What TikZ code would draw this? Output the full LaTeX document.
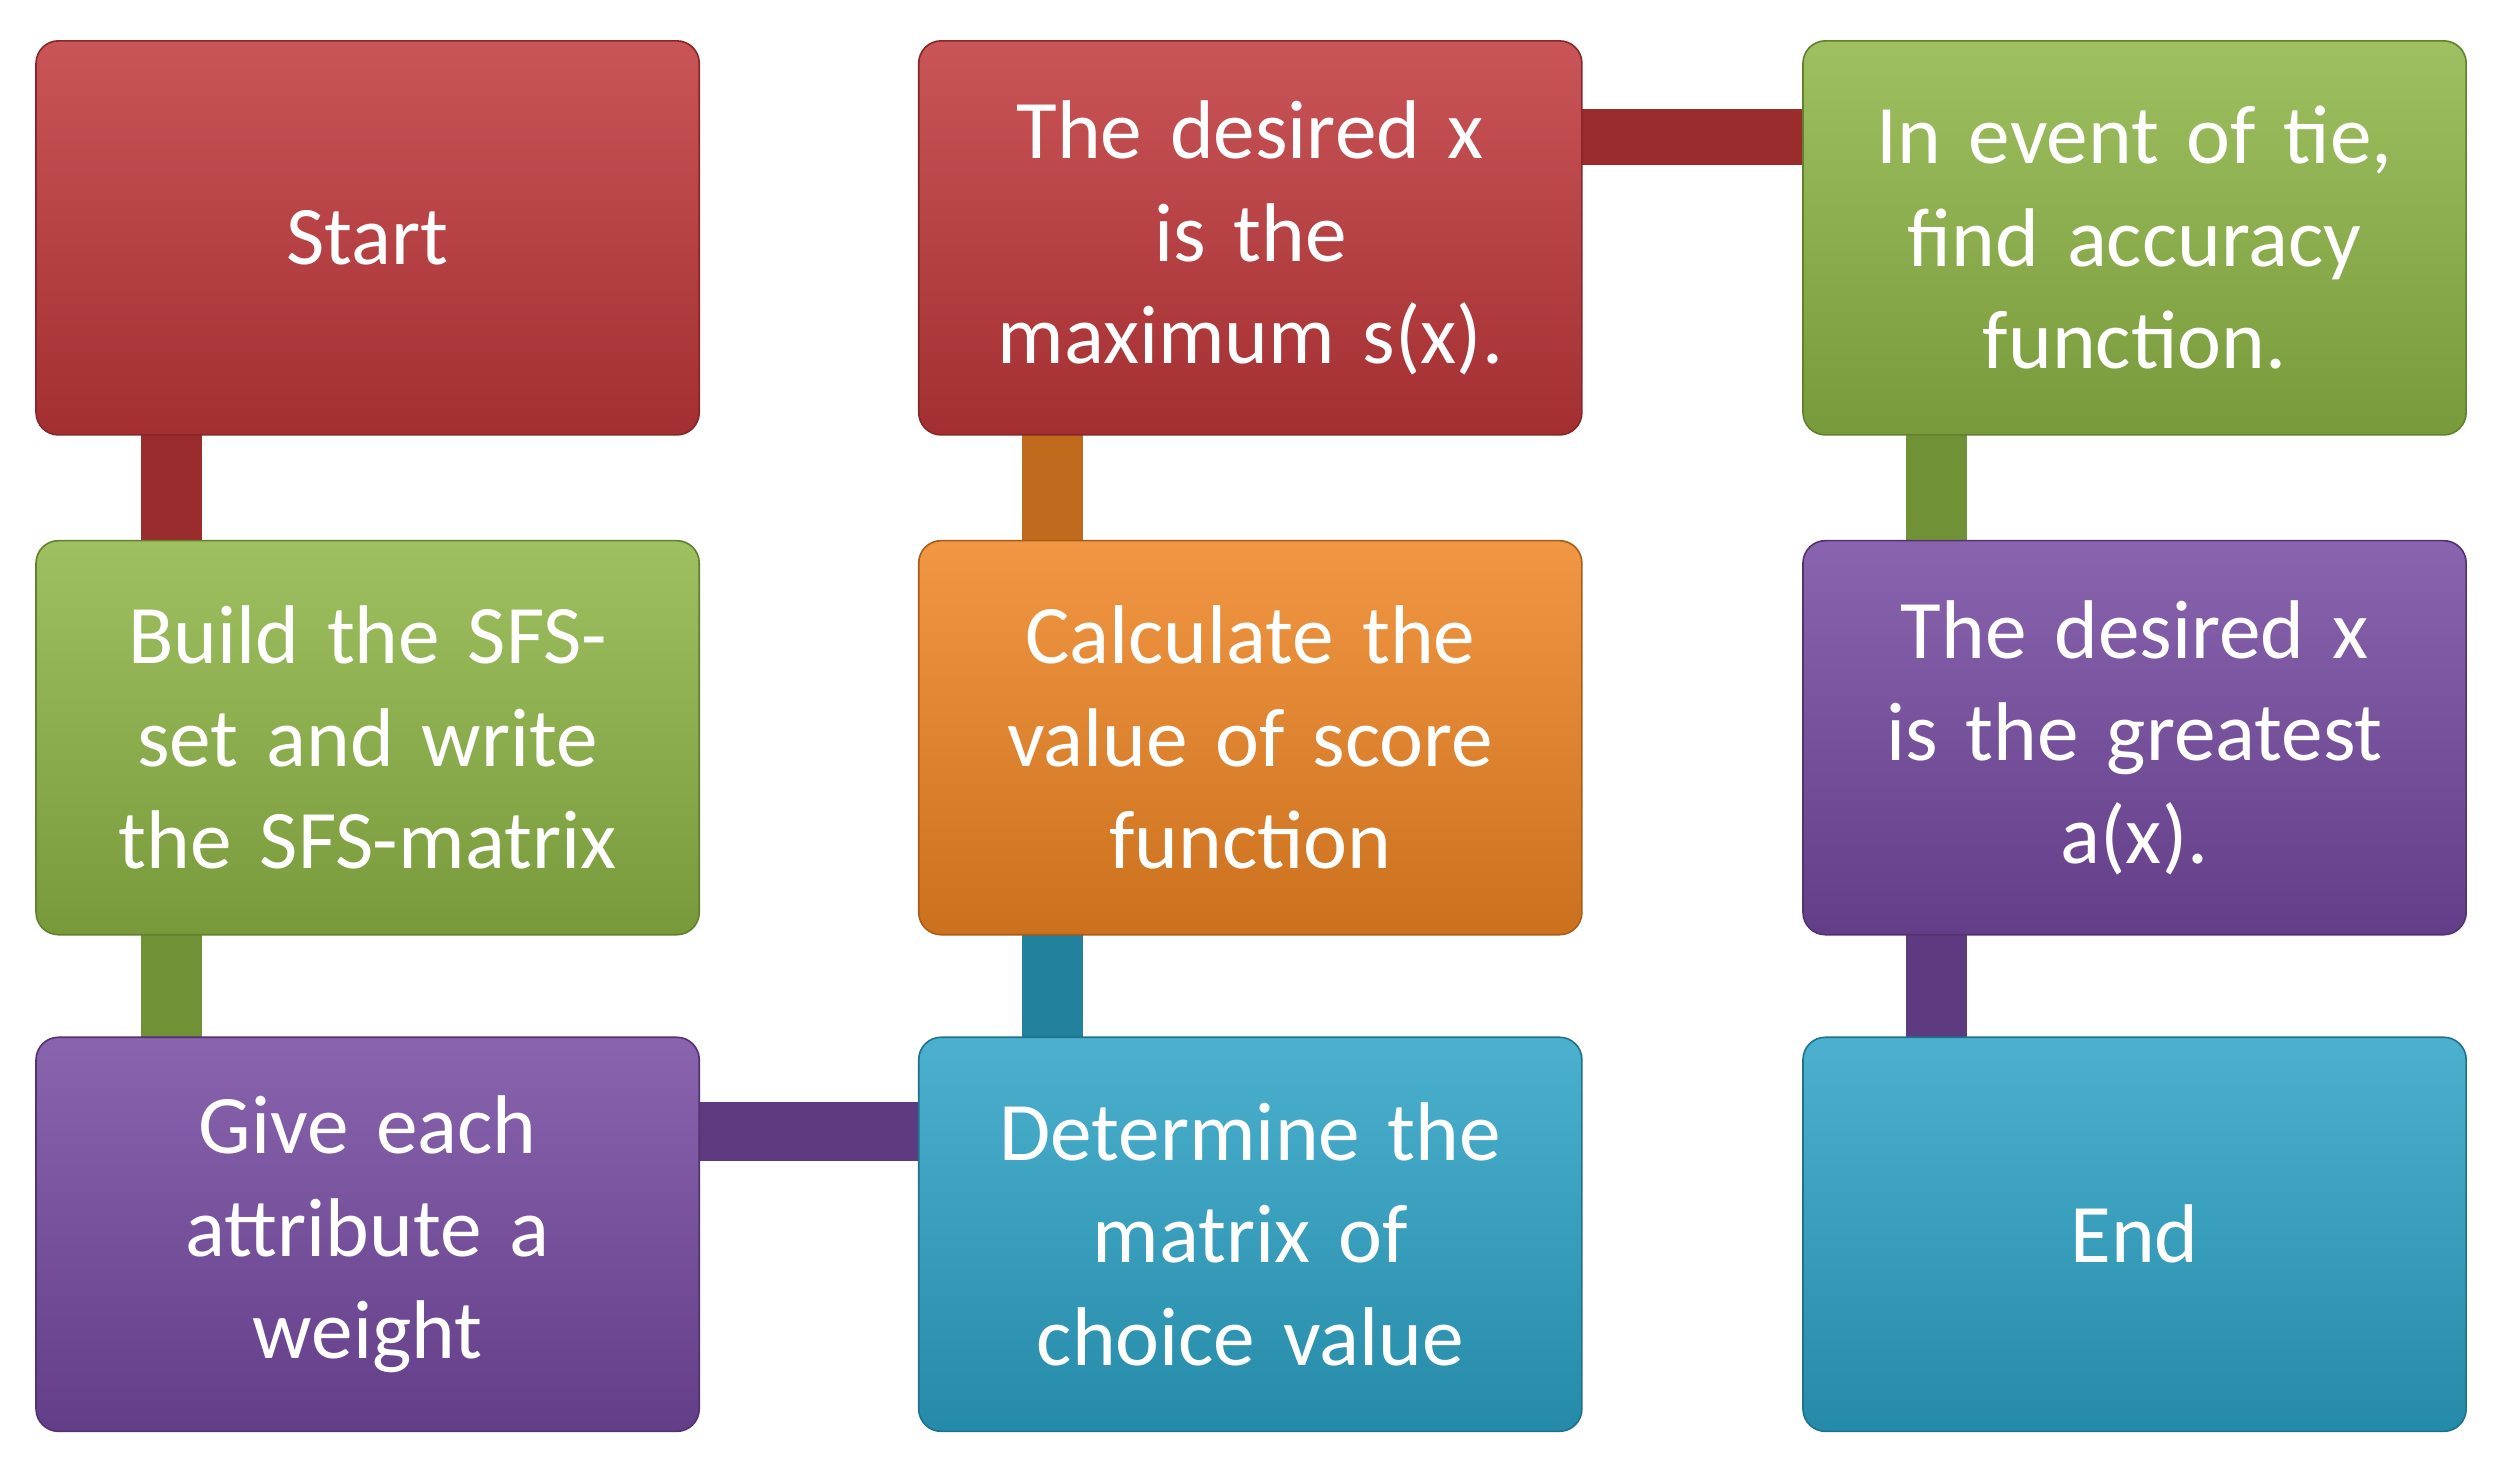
\documentclass[tikz,border=0pt]{standalone}
\usepackage{fontspec}
\setmainfont{Carlito}
\begin{document}
\begin{tikzpicture}[x=1pt,y=-1pt]
\definecolor{cR}{HTML}{C0373A}\definecolor{cG}{HTML}{8DB545}\definecolor{cO}{HTML}{EF8523}
\definecolor{cP}{HTML}{7549A0}\definecolor{cC}{HTML}{2BA3C6}
\tikzset{
 box/.style={rounded corners=14pt,minimum width=414pt,minimum height=246pt,draw=#1!70!black,line width=1pt,
   top color=#1!85!white,bottom color=#1!85!black,text=white,align=center,
   font=\fontsize{52}{64}\selectfont,text width=380pt,anchor=north west},
 bar/.style={fill=#1!80!black,draw=none}}
\useasboundingbox (0,0) rectangle (1560,916);
% connectors
\fill[bar=cR] (88,270) rectangle (126,340);
\fill[bar=cG] (88,580) rectangle (126,650);
\fill[bar=cP] (435,688) rectangle (575,725);
\fill[bar=cC] (638,580) rectangle (676,650);
\fill[bar=cO] (638,270) rectangle (676,340);
\fill[bar=cR] (986,68) rectangle (1127,103);
\fill[bar=cG] (1190,270) rectangle (1228,340);
\fill[bar=cP] (1190,580) rectangle (1228,650);
\node[box=cR] (a) at (22,25) {Start};
\node[box=cG] (b) at (22,337) {Build the SFS-\\set and write\\the SFS-matrix};
\node[box=cP] (c) at (22,647) {Give each\\attribute a\\weight};
\node[box=cC] (d) at (573,647) {Determine the\\matrix of\\choice value};
\node[box=cO] (e) at (573,337) {Calculate the\\value of score\\function};
\node[box=cR] (f) at (573,25) {The desired x\\is the\\maximum s(x).};
\node[box=cG] (g) at (1125,25) {In event of tie,\\find accuracy\\function.};
\node[box=cP] (h) at (1125,337) {The desired x\\is the greatest\\a(x).};
\node[box=cC] (i) at (1125,647) {End};
\end{tikzpicture}
\end{document}
